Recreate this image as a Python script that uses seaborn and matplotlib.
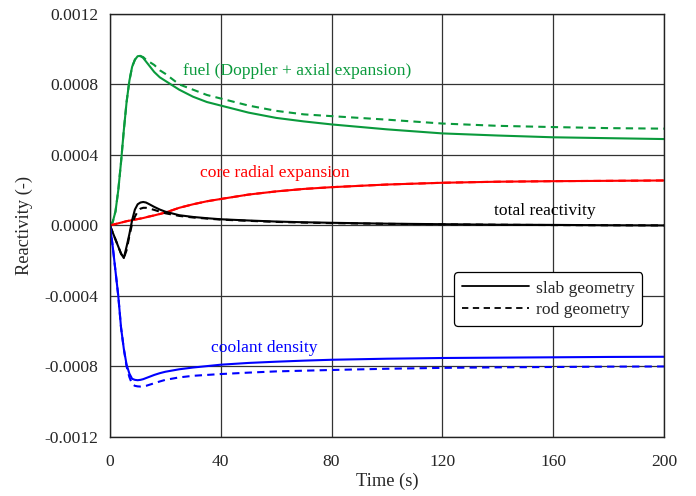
import numpy as np
import pandas as pd
import matplotlib
matplotlib.use("Agg")
import matplotlib.pyplot as plt
from matplotlib.lines import Line2D
import seaborn as sns

# Time grid (s)
time = [0, 1, 2, 3, 4, 5, 6, 7, 8, 9, 10, 11, 12, 13, 14, 16, 18, 20, 25, 30,
        35, 40, 50, 60, 70, 80, 100, 120, 140, 160, 180, 200]

# Reactivity components, slab geometry
fuel_slab = [0, 0.00002, 0.00008, 0.0002, 0.00036, 0.00054, 0.0007, 0.00082, 0.0009,
             0.00094, 0.00096, 0.000962, 0.00095, 0.00093, 0.00091, 0.00087, 0.00084,
             0.00082, 0.00077, 0.00073, 0.0007, 0.00068, 0.00064, 0.00061, 0.00059,
             0.000573, 0.000545, 0.000522, 0.00051, 0.0005, 0.000495, 0.00049]
radial_slab = [0, 0.000004, 0.000008, 0.000012, 0.000016, 0.00002, 0.000024, 0.000027,
               0.00003, 0.000033, 0.000036, 0.000039, 0.000042, 0.000046, 0.00005,
               0.000057, 0.000065, 0.000073, 0.0001, 0.00012, 0.000137, 0.00015,
               0.000175, 0.000193, 0.000207, 0.000217, 0.000232, 0.000242, 0.000248,
               0.000251, 0.000253, 0.000255]
total_slab = [0, -0.00004, -0.00008, -0.00012, -0.00016, -0.000185, -0.00012, -0.00005,
              0.00003, 0.00009, 0.00012, 0.00013, 0.000133, 0.00013, 0.000122, 0.000105,
              0.00009, 0.000078, 0.000058, 0.000048, 0.000041, 0.000035, 0.000028,
              0.000022, 0.000018, 0.000015, 0.00001, 0.000007, 0.000004, 0.000003,
              0.000001, 0]
coolant_slab = [0, -0.00012, -0.00026, -0.0004, -0.00058, -0.0007, -0.00079, -0.00084,
                -0.00087, -0.000876, -0.000878, -0.000876, -0.000872, -0.000866,
                -0.00086, -0.000848, -0.000838, -0.00083, -0.000816, -0.000806,
                -0.000798, -0.00079, -0.00078, -0.000773, -0.000767, -0.000762,
                -0.000756, -0.000752, -0.00075, -0.000748, -0.000746, -0.000745]

# Reactivity components, rod geometry
fuel_rod = [0, 0.00002, 0.00008, 0.0002, 0.00036, 0.00054, 0.0007, 0.00082, 0.0009,
            0.00094, 0.00096, 0.00096, 0.000955, 0.00094, 0.00093, 0.00091, 0.00088,
            0.00086, 0.0008, 0.00077, 0.00074, 0.00072, 0.00068, 0.00065, 0.00063,
            0.00062, 0.0006, 0.000578, 0.000565, 0.000558, 0.000552, 0.000549]
radial_rod = radial_slab
total_rod = [0, -0.00004, -0.00008, -0.00012, -0.00016, -0.000185, -0.00014, -0.00006,
             0.00001, 0.00005, 0.00008, 0.000095, 0.0001, 0.0001, 0.000097, 0.000088,
             0.000078, 0.000069, 0.000054, 0.000045, 0.000039, 0.000033, 0.000026,
             0.00002, 0.000016, 0.000013, 0.000009, 0.000006, 0.000004, 0.000002,
             0.000001, 0]
coolant_rod = [0, -0.00012, -0.00026, -0.0004, -0.00058, -0.0007, -0.0008, -0.00086,
               -0.0009, -0.00091, -0.000913, -0.000914, -0.000913, -0.00091, -0.000905,
               -0.000895, -0.000885, -0.000876, -0.000862, -0.000853, -0.000848,
               -0.000843, -0.000835, -0.000828, -0.000824, -0.00082, -0.000813,
               -0.000808, -0.000805, -0.000803, -0.000801, -0.0008]

y_ticks = [-0.0012, -0.0008, -0.0004, 0.0, 0.0004, 0.0008, 0.0012]
x_ticks = [0, 40, 80, 120, 160, 200]

series = {
    ("fuel", "slab"): fuel_slab, ("fuel", "rod"): fuel_rod,
    ("radial", "rod"): radial_rod, ("radial", "slab"): radial_slab,
    ("total", "slab"): total_slab, ("total", "rod"): total_rod,
    ("coolant", "slab"): coolant_slab, ("coolant", "rod"): coolant_rod,
}
frames = []
for (comp, geom), vals in series.items():
    frames.append(pd.DataFrame({"time": time, "rho": vals,
                                "component": comp, "geometry": geom}))
df = pd.concat(frames, ignore_index=True)

sns.set_style("white")
plt.rcParams["font.family"] = ["Liberation Serif", "DejaVu Serif"]

FS = 12.6

fig = plt.figure(figsize=(6.96, 4.96), dpi=100)
ax = fig.add_axes([0.158, 0.119, 0.796, 0.853])

palette = {"fuel": "#0A9A3C", "radial": "#FF0000", "total": "#000000", "coolant": "#0000FF"}
sns.lineplot(data=df, x="time", y="rho", hue="component", style="geometry",
             palette=palette, dashes={"slab": "", "rod": (3.5, 2.5)},
             linewidth=1.5, legend=False, ax=ax, sort=False, estimator=None)

ax.set_xlim(0, 200)
ax.set_ylim(-0.0012, 0.0012)
ax.set_xticks(x_ticks)
ax.set_yticks(y_ticks)
ax.set_yticklabels([f"{v:.4f}" for v in y_ticks])
ax.grid(True, color="#333333", linewidth=0.9)
for s in ax.spines.values():
    s.set_color("#222222")
    s.set_linewidth(1.0)
ax.tick_params(direction="inout", length=7, width=1, labelsize=FS, color="#222222")
ax.tick_params(axis="x", pad=9)
ax.tick_params(axis="y", pad=5)
ax.set_xlabel("Time (s)", fontsize=13.2, labelpad=2)
ax.set_ylabel("Reactivity (-)", fontsize=13.2, labelpad=8)

ax.text(26.4, 0.000874, "fuel (Doppler + axial expansion)", color="#0A9A3C",
        fontsize=FS, va="center", ha="left")
ax.text(32.5, 0.000295, "core radial expansion", color="#FF0000",
        fontsize=FS, va="center", ha="left")
ax.text(138.5, 0.00008, "total reactivity", color="black",
        fontsize=FS, va="center", ha="left")
ax.text(36.5, -0.000698, "coolant density", color="#0000FF",
        fontsize=FS, va="center", ha="left")

handles = [Line2D([], [], color="black", lw=1.3, ls="-"),
           Line2D([], [], color="black", lw=1.3, ls=(0, (3.5, 2.5)))]
leg = ax.legend(handles, ["slab geometry", "rod geometry"], loc="upper left",
                bbox_to_anchor=(0.621, 0.389), fontsize=FS, frameon=True,
                fancybox=True, handlelength=3.85, handletextpad=0.38,
                borderpad=0.45, borderaxespad=0, labelspacing=0.3, framealpha=1)
leg.get_frame().set_edgecolor("black")
leg.get_frame().set_linewidth(0.9)

fig.savefig("out.png", dpi=100)
